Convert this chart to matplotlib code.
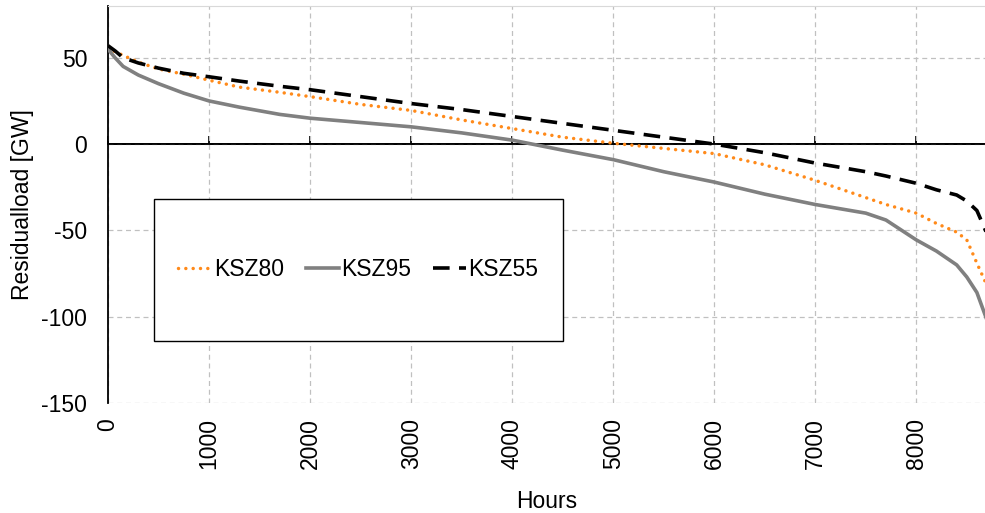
import matplotlib
matplotlib.use("Agg")
import matplotlib.pyplot as plt
from matplotlib.patches import Rectangle

plt.rcParams['font.family'] = ['Liberation Sans', 'DejaVu Sans']

hours = [0, 70, 150, 300, 500, 750, 1000, 1300, 1700, 2000, 2500, 3000, 3500, 4000,
         4500, 5000, 5500, 6000, 6500, 7000, 7500, 7700, 8000, 8200, 8400, 8500,
         8600, 8700, 8760]
ksz80 = [56, 53.5, 51.4, 47.5, 43.5, 40.5, 37, 33, 30, 27.5, 23, 19.5, 14, 9,
         4, 0.5, -2.5, -5.5, -12, -21, -31, -35, -40, -46, -51, -55.5,
         -69, -82, -86]
ksz95 = [55, 50, 45, 40, 35, 29.5, 25, 21.4, 17.2, 15, 12.5, 10, 6.5, 2.3,
         -3.5, -9, -16, -22, -29, -35, -40, -44, -55.5, -62, -70, -77,
         -86, -102, -112]
ksz55 = [57, 54, 50, 47, 44, 41, 39, 36.5, 33.5, 31.5, 27.5, 23.5, 20, 16,
         12, 8, 4, 0, -5, -11, -16, -18.5, -22.7, -26.5, -29.5, -33,
         -38.5, -52, -58]
xticks = [0, 1000, 2000, 3000, 4000, 5000, 6000, 7000, 8000]
yticks = [-150, -100, -50, 0, 50]

fs = 16.5
fig = plt.figure(figsize=(9.85, 5.13), dpi=100)
ax = fig.add_axes([108/985, (513-403)/513, 1 - 108/985 + 0.001, (403-6)/513])

l80, = ax.plot(hours, ksz80, color='#FF8A1A', lw=2.5, label='KSZ80',
               dashes=(0.01, 2.1), dash_capstyle='round', zorder=3)
l95, = ax.plot(hours, ksz95, color='#808080', lw=2.6, label='KSZ95', zorder=3)
l55, = ax.plot(hours, ksz55, color='black', lw=2.6, label='KSZ55',
               dashes=(4.6, 2.6), zorder=4)

ax.set_xlim(0, 8690)
ax.set_ylim(-150, 80)
ax.set_xticks(xticks)
ax.set_xticklabels([str(t) for t in xticks], rotation=90, fontsize=fs)
ax.set_yticks(yticks)
ax.set_yticklabels([str(t) for t in yticks], fontsize=fs)
ax.tick_params(axis='x', length=0, pad=11)
ax.tick_params(axis='y', length=0, pad=15)
ax.grid(True, color='#c0c0c0', linestyle=(0, (4, 3)), lw=0.9, zorder=0)
ax.set_axisbelow(True)

for s in ['bottom', 'right']:
    ax.spines[s].set_visible(False)
ax.spines['top'].set_color('#d9d9d9')
ax.spines['left'].set_color('black')
ax.spines['left'].set_linewidth(1.3)

ax.axhline(0, color='black', lw=1.3, zorder=2)
sec = ax.secondary_xaxis(0, transform=ax.transData)
sec.set_xticks(xticks)
sec.tick_params(axis='x', direction='in', length=6, width=1.3, labelbottom=False)
sec.spines['bottom'].set_linewidth(1.3)
sec.spines['bottom'].set_color('black')

ax.set_xlabel('Hours', fontsize=fs, labelpad=15)
ax.set_ylabel('Residualload [GW]', fontsize=fs, labelpad=5)

# legend box
bx0, bx1 = (154-108)/877, (562-108)/877
by0, by1 = (403-341)/397, (403-199)/397
ax.add_patch(Rectangle((bx0, by0), bx1-bx0, by1-by0, transform=ax.transAxes,
                       facecolor='white', edgecolor='black', lw=1.0, zorder=5))
leg = ax.legend(handles=[l80, l95, l55], loc='center',
                bbox_to_anchor=((bx0+bx1)/2, (by0+by1)/2), ncol=3, frameon=False,
                fontsize=fs, handlelength=1.45, handletextpad=0.1,
                columnspacing=0.95)
leg.set_zorder(6)

fig.savefig('out.png', dpi=100)
